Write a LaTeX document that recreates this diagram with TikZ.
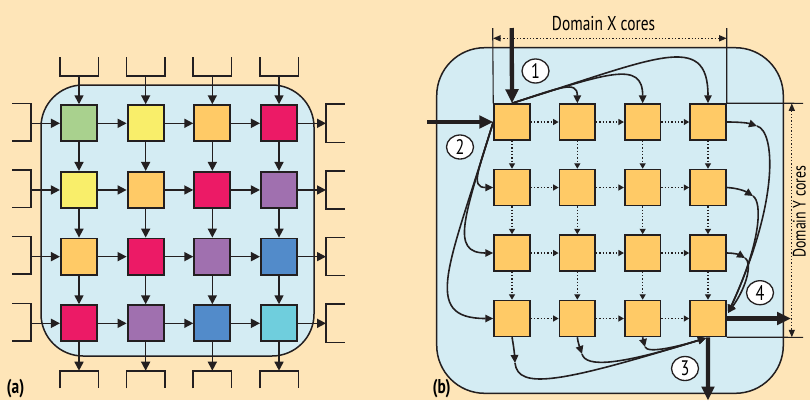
\documentclass[tikz,border=0pt]{standalone}
\usepackage{fontspec}
\setmainfont{PT Sans}
\newfontfamily\condfont{PT Sans}[FakeStretch=0.77]
\usetikzlibrary{arrows.meta,shapes.geometric}

\definecolor{paper}{HTML}{FEE5B8}
\definecolor{chip}{HTML}{D4ECF3}
\definecolor{ink}{HTML}{231F20}
\definecolor{cgreen}{HTML}{A9D18E}
\definecolor{cyellow}{HTML}{F9EE6A}
\definecolor{corange}{HTML}{FFCA66}
\definecolor{cmagenta}{HTML}{EC1A66}
\definecolor{cpurple}{HTML}{A070AF}
\definecolor{cblue}{HTML}{528BCA}
\definecolor{ccyan}{HTML}{6FCEDD}

\begin{document}
\begin{tikzpicture}[x=1pt,y=-1pt,
  chipbox/.style={draw=ink, fill=chip, line width=1.5pt},
  corea/.style={draw=ink, line width=1.9pt, minimum size=36.2pt, inner sep=0pt},
  coreb/.style={draw=ink, line width=1.7pt, minimum size=35.8pt, inner sep=0pt, fill=corange},
  port/.style={draw=ink, line width=1.6pt},
  link/.style={draw=ink, line width=1.6pt, -{Triangle[length=9pt,width=9pt]}},
  mesh/.style={draw=ink, line width=1.3pt, dotted, -{Triangle[length=5.5pt,width=6pt]}},
  route/.style={draw=ink, line width=1.6pt, -{Triangle[length=8pt,width=7.5pt]}},
  bigflow/.style={draw=ink, line width=4.3pt, -{Triangle[length=14pt,width=12.5pt]}},
  guide/.style={draw=ink, line width=1.1pt},
  span/.style={draw=ink, line width=1.3pt, dotted, {Triangle[length=7.5pt,width=6pt]}-{Triangle[length=7.5pt,width=6pt]}},
  badge/.style={draw=ink, fill=white, line width=1.3pt, ellipse, minimum width=27pt, minimum height=24pt, inner sep=0pt, font=\condfont\fontsize{21}{21}\selectfont},
  caption/.style={font=\condfont\fontsize{20}{20}\selectfont, inner sep=0pt},
  sidecaption/.style={font=\condfont\fontsize{18}{18}\selectfont, inner sep=0pt},
  tag/.style={font=\condfont\bfseries\fontsize{20}{20}\selectfont, inner sep=0pt}
]
\fill[paper] (0,0) rectangle (810,400);
\useasboundingbox (0,0) rectangle (810,400);

% ---------------- (a) coloured mesh with ports ----------------
\draw[chipbox, rounded corners=42pt] (41,85) rectangle (314,356);

\foreach \i/\j/\c in {1/1/cgreen,2/1/cyellow,3/1/corange,4/1/cmagenta,
                      1/2/cyellow,2/2/corange,3/2/cmagenta,4/2/cpurple,
                      1/3/corange,2/3/cmagenta,3/3/cpurple,4/3/cblue,
                      1/4/cmagenta,2/4/cpurple,3/4/cblue,4/4/ccyan}
  \node[corea, fill=\c] (a\i\j) at ({79+66.67*(\i-1)},{123.3+66.67*(\j-1)}) {};

\foreach \i/\n in {1/2,2/3,3/4}
  \foreach \j in {1,...,4} {
    \draw[link] (a\i\j) -- (a\n\j);
    \draw[link] (a\j\i) -- (a\j\n);
  }

\foreach \k in {1,...,4} {
  \pgfmathsetmacro\xc{79+66.67*(\k-1)}
  \pgfmathsetmacro\yc{123.3+66.67*(\k-1)}
  % top input ports
  \draw[port] ({\xc-19.3},57) -- ({\xc-19.3},75.7) -- ({\xc+19.3},75.7) -- ({\xc+19.3},57);
  \coordinate (ti\k) at (\xc,75.7);
  \draw[link] (ti\k) -- (a\k1);
  % bottom output ports
  \draw[port] ({\xc-19.3},388.3) -- ({\xc-19.3},370.7) -- ({\xc+19.3},370.7) -- ({\xc+19.3},388.3);
  \coordinate (bo\k) at (\xc,370.7);
  \draw[link] (a\k4) -- (bo\k);
  % left input ports
  \draw[port] (12,{\yc-20}) -- (31,{\yc-20}) -- (31,{\yc+17.5}) -- (12,{\yc+17.5});
  \coordinate (li\k) at (31,\yc);
  \draw[link] (li\k) -- (a1\k);
  % right output ports
  \draw[port] (344.7,{\yc-19.2}) -- (326,{\yc-19.2}) -- (326,{\yc+19}) -- (344.7,{\yc+19});
  \coordinate (ro\k) at (326,\yc);
  \draw[link] (a4\k) -- (ro\k);
}
\node[tag, anchor=base west] (taga) at (6.5,393.5) {(a)};

% ---------------- (b) domain of cores ----------------
\draw[chipbox, rounded corners=48pt] (436.7,47.7) rectangle (783.3,393.3);

\foreach \i in {1,...,4}
  \foreach \j in {1,...,4}
    \node[coreb] (b\i\j) at ({512+65.33*(\i-1)},{122+65.5*(\j-1)}) {};

\foreach \i/\n in {1/2,2/3,3/4}
  \foreach \j in {1,...,4} {
    \draw[mesh] (b\i\j) -- (b\n\j);
    \draw[mesh] (b\j\i) -- (b\j\n);
  }

% dimension guides
\coordinate (dxl) at (492.7,28);
\coordinate (dxr) at (726.7,28);
\coordinate (dyt) at (803,103.3);
\coordinate (dyb) at (803,337.3);
\draw[guide] (dxl) -- (b11.north west);
\draw[guide] (dxr) -- (b41.north east) -- (dyt);
\draw[guide] (b44.south east) -- (dyb);
\coordinate (sxl) at (493,38.3);
\coordinate (sxr) at (726.7,38.3);
\draw[span] (sxl) -- (sxr);
\coordinate (syt) at (791.8,103.3);
\coordinate (syb) at (791.8,337.3);
\draw[span] (syt) -- (syb);
\node[caption, anchor=base] (domx) at (603.5,30) {Domain X cores};
\node[sidecaption, anchor=base, rotate=90] (domy) at (805.5,211.7) {Domain Y cores};

% scatter along the first row
\draw[route] (b11.north) .. controls (560,87.5) and (577.3,80) .. (b21.north);
\draw[route] (b11.north) .. controls (607.6,73) and (642.7,60) .. (b31.north);
\draw[route] (b11.north) .. controls (655,58.5) and (708,30) .. (b41.north);

% scatter along the first column
\draw[route] (b11.west) .. controls (478.5,170) and (470,187.5) .. (b12.west);
\draw[route] (b11.west) .. controls (464,217.6) and (450,253) .. (b13.west);
\draw[route] (b11.west) .. controls (449.5,265.4) and (420,318.5) .. (b14.west);

% gather along the last column
\coordinate (rt) at (728,313);
\coordinate (r1) at (757,126);
\coordinate (r2) at (753,196);
\coordinate (r3) at (745,258);
\draw[route] (b41.east) .. controls (740,122) and (748,123) .. (r1);
\draw[route] (r1) .. controls (775,131) and (780,200) .. (rt);
\draw[route] (b42.east) .. controls (737,188) and (745,191) .. (r2);
\draw[route] (r2) .. controls (762,202) and (762,240) .. (rt);
\draw[route] (b43.east) .. controls (735,253) and (740,255) .. (r3);
\draw[route] (r3) .. controls (752,262) and (748,285) .. (rt);

% gather along the last row
\coordinate (bt) at (706,338);
\coordinate (m1) at (515,363);
\coordinate (m2) at (582,354);
\coordinate (m3) at (645,347);
\draw[route] (b14.south) .. controls (513.5,345) and (514.5,354) .. (m1);
\draw[route] (m1) .. controls (518,390) and (560,383) .. (bt);
\draw[route] (b24.south) .. controls (578,343) and (580,348) .. (m2);
\draw[route] (m2) .. controls (586,368) and (620,365) .. (bt);
\draw[route] (b34.south) .. controls (643,340) and (644,343) .. (m3);
\draw[route] (m3) .. controls (648,354) and (680,346) .. (bt);

% external flows
\coordinate (f1) at (511.7,28);
\coordinate (f2) at (427,122);
\coordinate (f3) at (708,400.5);
\coordinate (f4) at (791,318.5);
\draw[bigflow] (f1) -- (b11.north);
\draw[bigflow] (f2) -- (b11.west);
\draw[bigflow] (b44.south) -- (f3);
\draw[bigflow] (b44.east) -- (f4);

\node[badge] (n1) at (535.5,71) {1};
\node[badge] (n2) at (460,147) {2};
\node[badge] (n3) at (685,368.5) {3};
\node[badge] (n4) at (760,292.7) {4};

\node[tag, anchor=base west] (tagb) at (432.5,393.5) {(b)};
\end{tikzpicture}
\end{document}
